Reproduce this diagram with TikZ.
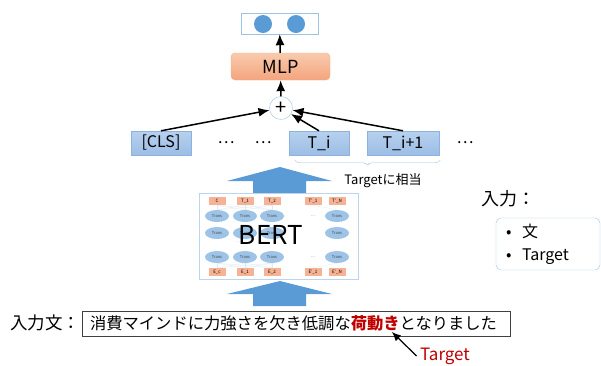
\documentclass[tikz,border=0pt]{standalone}
\usepackage{fontspec}
\setmainfont{Noto Sans CJK JP}
\usepackage{tikz}
\usetikzlibrary{positioning,shapes,arrows.meta,calc,decorations.pathreplacing}

\definecolor{tokline}{HTML}{8EB2DE}
\definecolor{toktop}{HTML}{B7D1EF}
\definecolor{tokbot}{HTML}{9CBDE5}
\definecolor{mlptop}{HTML}{F8CBAD}
\definecolor{mlpbot}{HTML}{F4A47E}
\definecolor{mlpline}{HTML}{F4B183}
\definecolor{darkblue}{HTML}{5B9BD5}
\definecolor{paleblue}{HTML}{9DC3E6}
\definecolor{salmon}{HTML}{F6B294}
\definecolor{tgtred}{HTML}{C00000}

\begin{document}
\begin{tikzpicture}[x=1pt, y=-1pt,
	tok/.style={draw=tokline, top color=toktop, bottom color=tokbot, minimum height=24pt, inner sep=0pt, font=\fontsize{16}{16}\selectfont},
	conn/.style={-{Latex[length=11pt,width=9pt]}, line width=1.5pt},
	minibox/.style={fill=salmon, minimum width=17pt, minimum height=8pt, inner sep=0pt, font=\fontsize{4.5}{4.5}\selectfont},
	trans/.style={ellipse, fill=paleblue, minimum width=24pt, minimum height=12pt, inner sep=0pt, font=\fontsize{4}{4}\selectfont, text=black!70},
	faint/.style={draw=paleblue!35, line width=0.3pt}]
	\useasboundingbox (0,0) rectangle (601,365);

	% output and classifier
	\node[draw=paleblue, minimum width=77pt, minimum height=21pt] (out) at (279.5,23.5) {};
	\node[circle, fill=darkblue, minimum size=18pt, inner sep=0pt] (o1) at (263,24) {};
	\node[circle, fill=darkblue, minimum size=18pt, inner sep=0pt] (o2) at (296,24) {};
	\node[draw=mlpline, top color=mlptop, bottom color=mlpbot, rounded corners=4pt, minimum width=99pt, minimum height=27pt, font=\fontsize{18}{18}\selectfont] (mlp) at (280.5,66.5) {MLP};
	\node[circle, draw=paleblue, fill=white, minimum size=23pt, inner sep=0pt, font=\fontsize{20}{20}\selectfont] (plus) at (281,108) {+};

	% token outputs
	\node[tok, minimum width=60pt] (cls) at (161,143) {[CLS]};
	\node[tok, minimum width=60pt] (ti) at (319,143) {T\_i};
	\node[tok, minimum width=72pt] (tj) at (403,143) {T\_i+1};
	\node[font=\fontsize{16}{16}\selectfont] (d1) at (226,143) {…};
	\node[font=\fontsize{16}{16}\selectfont] (d2) at (263,143) {…};
	\node[font=\fontsize{16}{16}\selectfont] (d3) at (465,143) {…};

	\draw[conn] (cls.north) -- (plus);
	\draw[conn] (ti.north) -- (plus);
	\draw[conn] (tj.north) -- (plus);
	\draw[conn] (plus) -- (mlp);
	\draw[conn] (mlp) -- (out);

	\draw[paleblue, decorate, decoration={brace, mirror, amplitude=5pt}] ($(ti.south west)+(6,5)$) -- ($(tj.south east)+(1,5)$);
	\node[font=\fontsize{13}{13}\selectfont] (tgtnote) at (383,181) {Targetに相当};

	% BERT block
	\fill[darkblue] (253,193) -- (253,181) -- (227,181) -- (280,167) -- (332,181) -- (306,181) -- (306,193) -- cycle;
	\node[draw=paleblue!70, minimum width=159pt, minimum height=86pt] (bert) at (278.5,236) {};
	\foreach \x/\t/\b [count=\i] in {217/C/E\_c, 245/T\_1/E\_1, 272/T\_2/E\_2, 313/T'\_1/E'\_1, 337/T'\_N/E'\_N} {
		\node[minibox] (top\i) at (\x,201) {\t};
		\node[minibox] (bot\i) at (\x,272) {\b};
	}
	\foreach \x [count=\i] in {217,245,272,337}
		\foreach \y [count=\j] in {216,233,257}
			\node[trans] (tr\i\j) at (\x,\y) {Trans};
	\foreach \i in {1,2,3}
		\foreach \k in {1,2,3} {
			\draw[faint] (tr\i1.north) -- (top\k.south);
			\draw[faint] (tr\i3.south) -- (bot\k.north);
		}
	\draw[faint] (tr41.north) -- (top4.south);
	\draw[faint] (tr43.south) -- (bot4.north);
	\node[font=\fontsize{5}{5}\selectfont, text=black!50] (bd1) at (313,216) {...};
	\node[font=\fontsize{5}{5}\selectfont, text=black!50] (bd2) at (313,257) {...};
	\node[font=\fontsize{5}{5}\selectfont, text=black!50] (bd3) at (240,242) {. . .};
	\node[font=\fontsize{26}{26}\selectfont] (bertlabel) at (271,235) {BERT};
	\fill[darkblue] (253,306) -- (253,294) -- (227,294) -- (280,281) -- (332,294) -- (306,294) -- (306,306) -- cycle;

	% input sentence
	\node[font=\fontsize{17.5}{17.5}\selectfont] (inlabel) at (45,323) {入力文：};
	\node[draw=black!75, text width=412pt, inner xsep=8pt, minimum height=25pt, align=left, font=\fontsize{16.3}{16.3}\selectfont] (sent) at (296,323.5) {消費マインドに力強さを欠き低調な\textcolor{tgtred}{\bfseries 荷動き}となりました};
	\node[text=tgtred, font=\fontsize{17}{17}\selectfont] (tgt) at (445,356) {Target};
	\coordinate (kiword) at (392,332);
	\draw[-{Latex[length=9pt,width=8pt]}, line width=1.2pt] (tgt.west) -- (kiword);

	% inputs legend
	\node[font=\fontsize{18}{18}\selectfont] (legtitle) at (508,199) {入力：};
	\node[draw=paleblue, rounded corners=5pt, text width=84pt, inner xsep=10pt, minimum height=52pt, align=left, font=\fontsize{16}{23}\selectfont] (legend) at (548,244) {•\ \ 文\\•\ \ Target};
\end{tikzpicture}
\end{document}
